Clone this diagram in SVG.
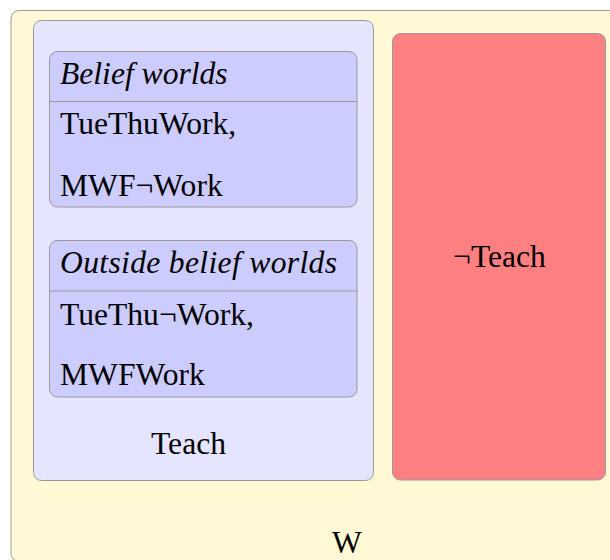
<svg xmlns="http://www.w3.org/2000/svg" width="610" height="560" viewBox="0 0 610 560">
<style>
.box{stroke:#999999;stroke-width:1}
.t{font-family:"Liberation Serif","Times New Roman",serif;font-size:31.6px;fill:#000}
.i{font-style:italic}
</style>
<rect width="610" height="560" fill="#ffffff"/>
<g id="W">
<rect class="box" x="11" y="10.5" width="620" height="551" rx="8" fill="#fff9d6"/>
<text class="t" x="347" y="553" text-anchor="middle">W</text>
</g>
<g id="Teach">
<rect class="box" x="33.5" y="20.5" width="340" height="460" rx="8" fill="#e5e5ff"/>
<text class="t" x="188.5" y="454" text-anchor="middle">Teach</text>
</g>
<g id="BeliefWorlds">
<rect class="box" x="49.5" y="51.5" width="307.5" height="155.5" rx="8" fill="#ccccff"/>
<line class="box" x1="49.5" y1="101.5" x2="357" y2="101.5"/>
<text class="t i" x="60" y="84">Belief worlds</text>
<text class="t" x="60" y="134">TueThuWork,</text>
<text class="t" x="60" y="196">MWF¬Work</text>
</g>
<g id="OutsideBeliefWorlds">
<rect class="box" x="49.5" y="240.5" width="307.5" height="156.5" rx="8" fill="#ccccff"/>
<line class="box" x1="49.5" y1="291" x2="357" y2="291"/>
<text class="t i" x="60" y="273" textLength="277" lengthAdjust="spacing">Outside belief worlds</text>
<text class="t" x="60" y="325">TueThu¬Work,</text>
<text class="t" x="60" y="385">MWFWork</text>
</g>
<g id="NotTeach">
<rect class="box" x="392.5" y="33.5" width="213" height="446.5" rx="8" fill="#ff8080"/>
<text class="t" x="499.5" y="267" text-anchor="middle">¬Teach</text>
</g>
<g id="connectors"/>
</svg>
